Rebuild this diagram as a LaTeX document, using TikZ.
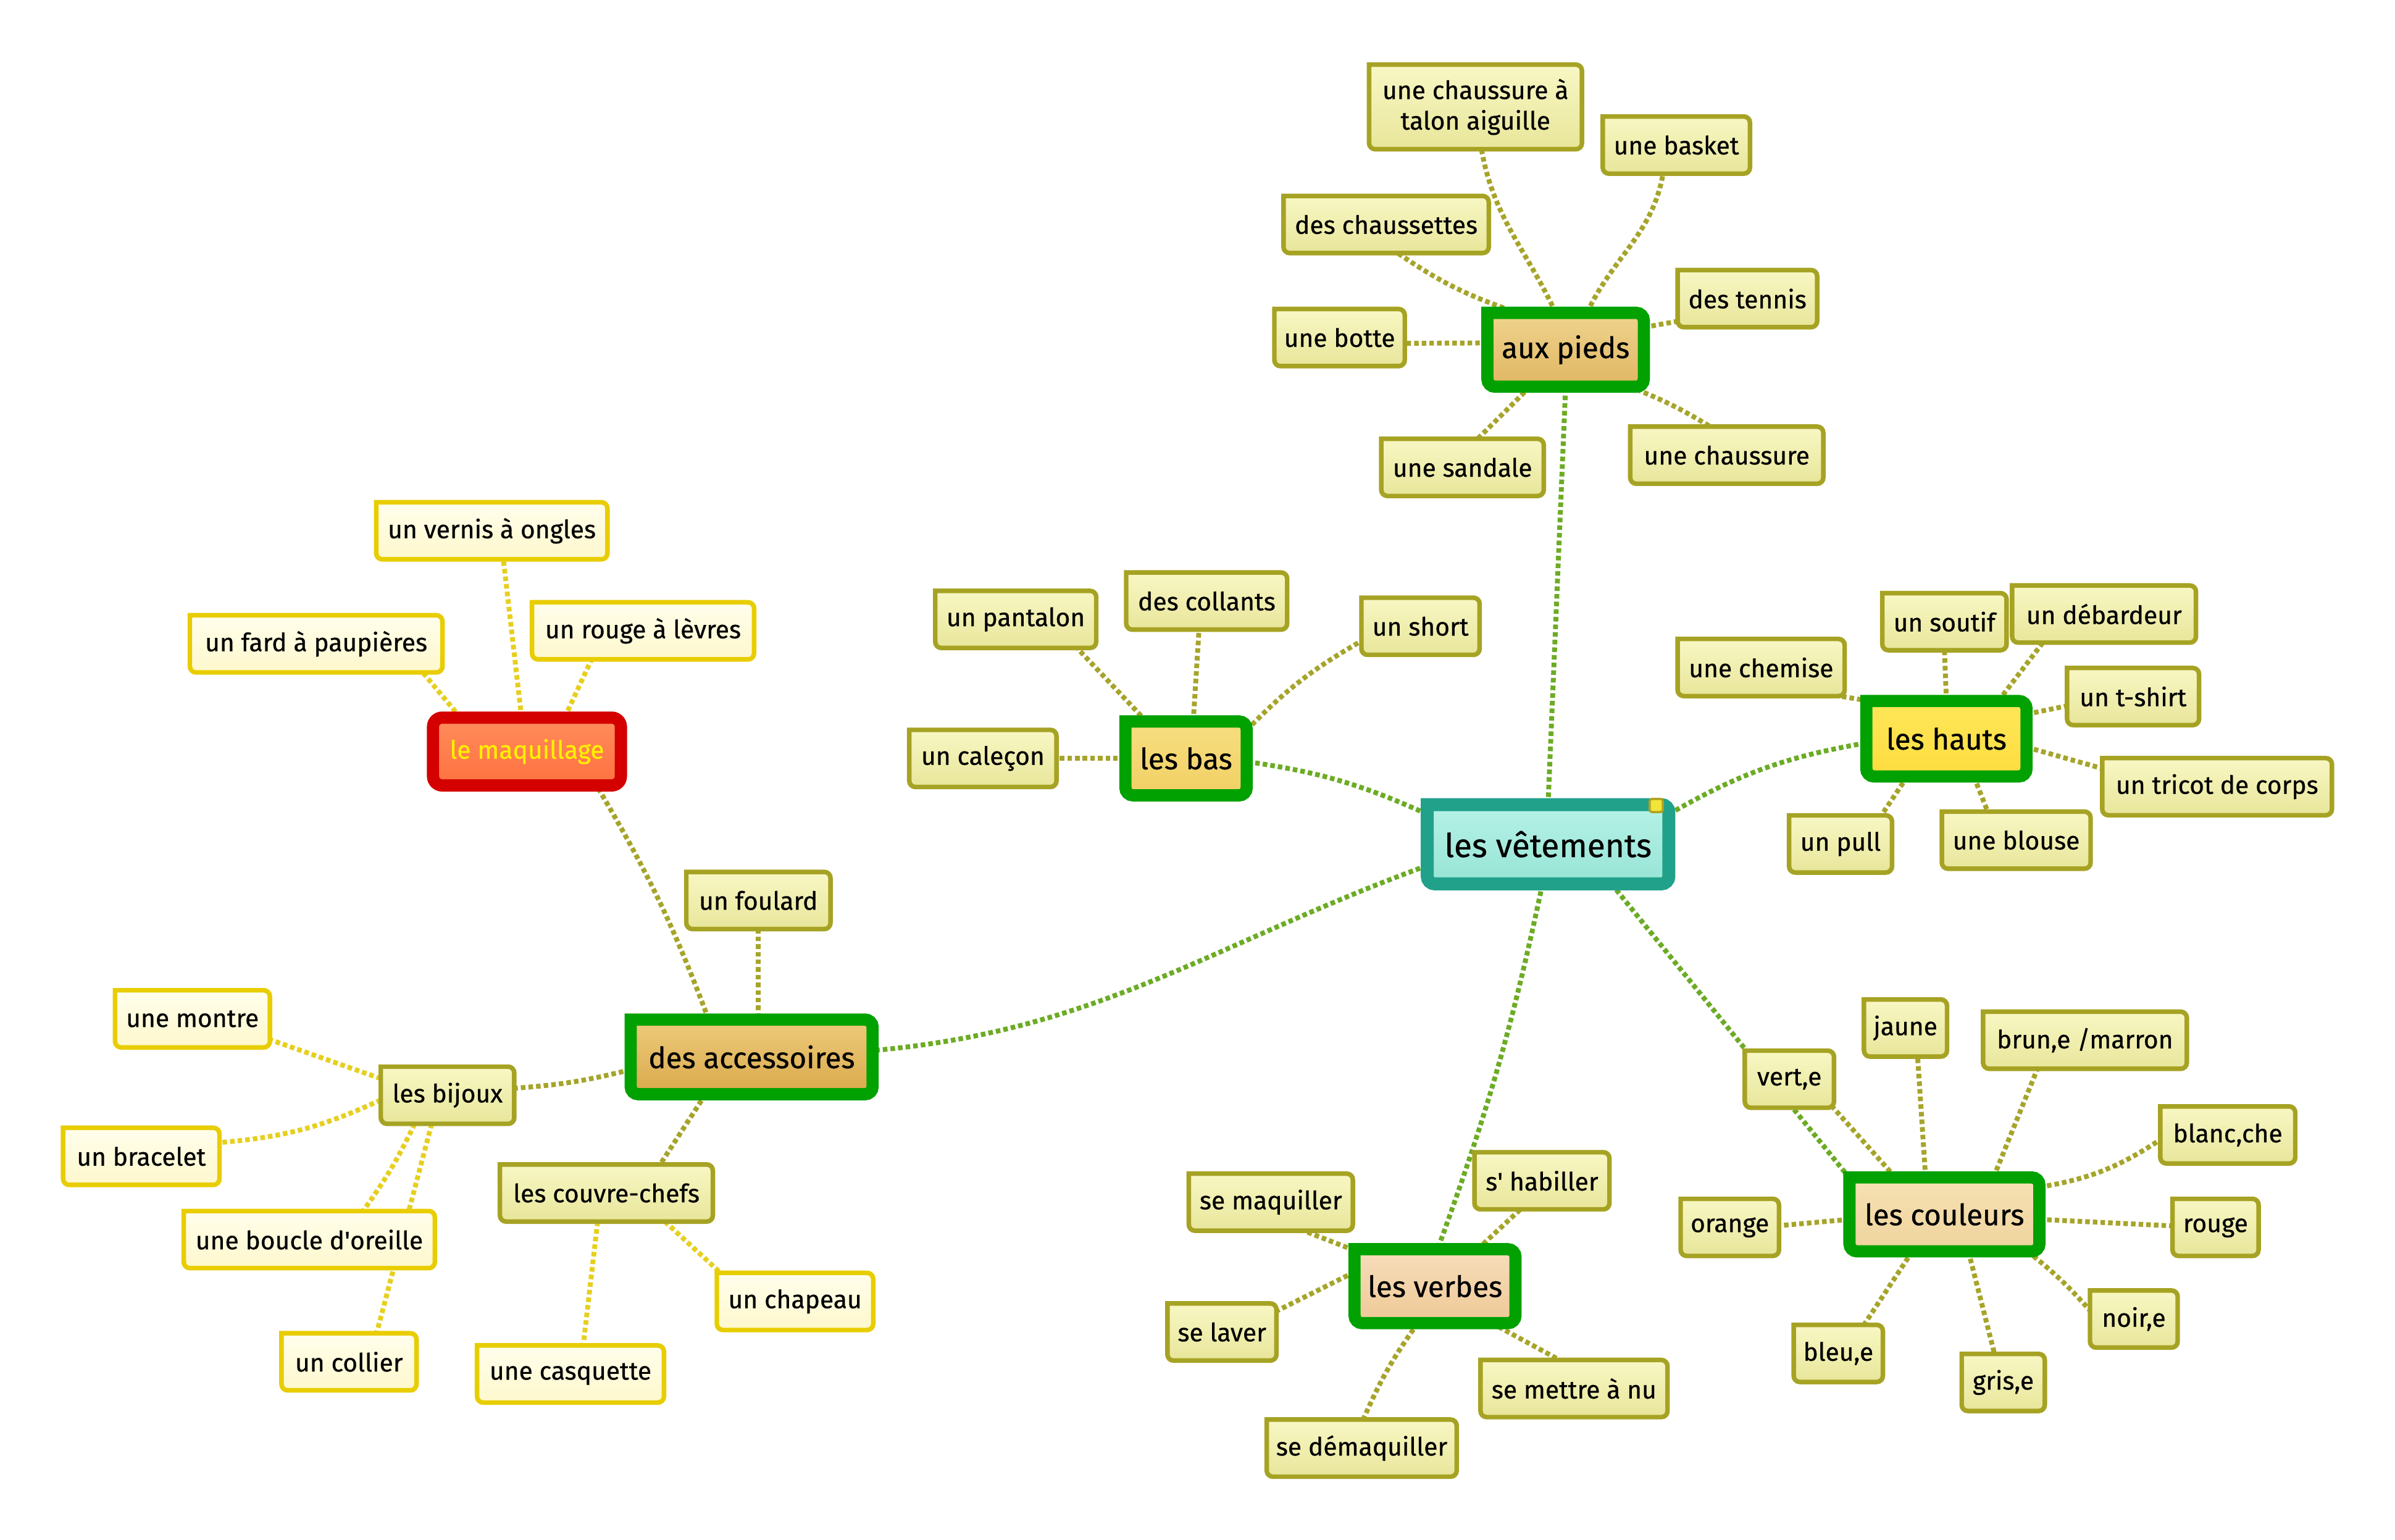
\documentclass[tikz,border=0pt]{standalone}
\usepackage{fontspec}
\setmainfont{Fira Sans}[FakeBold=0.6]
\newcommand\sq{\XeTeXglyph\XeTeXglyphindex "quotesingle"\relax}
\pgfdeclarelayer{bg}
\pgfdeclarelayer{boxes}
\pgfsetlayers{bg,boxes,main}
\definecolor{cgrn}{HTML}{6CAB24}
\definecolor{colive}{HTML}{A6A42A}
\definecolor{cyel}{HTML}{E6CF1E}
\definecolor{bolive}{HTML}{A6A324}
\definecolor{byel}{HTML}{E8CD00}
\definecolor{bgreen}{HTML}{02A102}
\definecolor{bteal}{HTML}{21A18A}
\definecolor{bred}{HTML}{D40000}
\definecolor{lftop}{HTML}{F8F7C4}
\definecolor{lfbot}{HTML}{E8E69A}
\definecolor{yltop}{HTML}{FFFEEC}
\definecolor{ylbot}{HTML}{FEF8CC}
\definecolor{vett}{HTML}{B6F2E7}
\definecolor{vetb}{HTML}{96E4D5}
\definecolor{auxt}{HTML}{EFD48E}
\definecolor{auxb}{HTML}{E0B662}
\definecolor{bast}{HTML}{F7DE80}
\definecolor{basb}{HTML}{F1D064}
\definecolor{haut}{HTML}{FFE75A}
\definecolor{haub}{HTML}{FDDC3E}
\definecolor{acct}{HTML}{EECB7B}
\definecolor{accb}{HTML}{D9A94C}
\definecolor{vert}{HTML}{F6DDBB}
\definecolor{verb}{HTML}{EFC996}
\definecolor{coult}{HTML}{F7E1B4}
\definecolor{coulb}{HTML}{EED39C}
\definecolor{maqt}{HTML}{FF8C5C}
\definecolor{maqb}{HTML}{FF713F}
\definecolor{maqtxt}{HTML}{FFF000}
\definecolor{mkfill}{HTML}{F2E53A}
\definecolor{mkdraw}{HTML}{B0A020}
\newcommand\sqframe[3]{\path[#2] (#1.north west) -- ([xshift=-#3]#1.north east) arc[start angle=90,end angle=0,radius=#3] -- ([yshift=#3]#1.south east) arc[start angle=0,end angle=-90,radius=#3] -- ([xshift=#3]#1.south west) arc[start angle=270,end angle=180,radius=#3] -- cycle;}
\tikzset{
  lf/.style={inner sep=0pt, font=\fontsize{16.5}{20}\selectfont, align=center, minimum height=37pt},
  mn/.style={inner sep=0pt, font=\fontsize{19.2}{23}\selectfont, minimum height=48pt},
  fleaf/.style={draw=bolive, line width=3pt, top color=lftop, bottom color=lfbot},
  fyel/.style={draw=byel, line width=3pt, top color=yltop, bottom color=ylbot},
  fmain/.style 2 args={draw=bgreen, line width=8pt, top color=#1, bottom color=#2},
  cbase/.style={line width=3.2pt, dash pattern=on 3pt off 2pt},
  cg/.style={cbase, draw=cgrn},
  co/.style={cbase, draw=colive},
  cy/.style={cbase, draw=cyel},
}
\begin{document}
\begin{tikzpicture}[x=1pt,y=1pt]
\useasboundingbox (0,0) rectangle (1568,1008);
% ---------- nodes (text) ----------
\node[inner sep=0pt, font=\fontsize{21.5}{25}\selectfont, minimum width=157.8pt, minimum height=51.5pt] (vet) at (1013.5,455.3) {les vêtements};
\node[mn, minimum width=102pt] (aux) at (1025,779) {aux pieds};
\node[mn, minimum width=79pt] (bas) at (776.5,511.5) {les bas};
\node[mn, minimum width=104.5pt, minimum height=49pt] (hauts) at (1274.3,524.4) {les hauts};
\node[mn, minimum width=158pt, minimum height=48.5pt] (acc) at (492.1,316.1) {des accessoires};
\node[mn, minimum width=105pt] (verbes) at (939.5,166) {les verbes};
\node[mn, minimum width=124pt] (couleurs) at (1273,213) {les couleurs};
\node[lf, minimum width=122.6pt, minimum height=44pt, text=maqtxt] (maq) at (345,516) {le maquillage};
% aux pieds
\node[lf, minimum width=139pt, minimum height=55pt] (chauss2) at (966,938) {une chaussure à\\talon aiguille};
\node[lf, minimum width=96pt] (basket) at (1097.5,913) {une basket};
\node[lf, minimum width=134pt] (chaussettes) at (907.5,861) {des chaussettes};
\node[lf, minimum width=91pt] (tennis) at (1144,812.5) {des tennis};
\node[lf, minimum width=85pt] (botte) at (877,787) {une botte};
\node[lf, minimum width=106pt] (sandale) at (957.5,702) {une sandale};
\node[lf, minimum width=126pt] (chaussure) at (1130.5,710) {une chaussure};
% les bas
\node[lf, minimum width=105pt] (pantalon) at (665,602.5) {un pantalon};
\node[lf, minimum width=105pt] (collants) at (790,614.5) {des collants};
\node[lf, minimum width=77pt] (short) at (930,598) {un short};
\node[lf, minimum width=96pt] (calecon) at (643.5,511.5) {un caleçon};
% les hauts
\node[lf, minimum width=109pt] (chemise) at (1153,571) {une chemise};
\node[lf, minimum width=81pt] (soutif) at (1273,601) {un soutif};
\node[lf, minimum width=120pt] (debardeur) at (1377.5,606) {un débardeur};
\node[lf, minimum width=86pt] (tshirt) at (1396.5,552) {un t-shirt};
\node[lf, minimum width=150pt] (tricot) at (1451.5,493) {un tricot de corps};
\node[lf, minimum width=67pt] (pull) at (1205,455.5) {un pull};
\node[lf, minimum width=97pt] (blouse) at (1320,458) {une blouse};
% les couleurs
\node[lf, minimum width=58pt] (verte) at (1171.5,301.5) {vert,e};
\node[lf, minimum width=54pt] (jaune) at (1247.5,335) {jaune};
\node[lf, minimum width=133pt] (brun) at (1365,327) {brun,e /marron};
\node[lf, minimum width=88pt] (blanc) at (1458.5,265) {blanc,che};
\node[lf, minimum width=64pt] (orange) at (1132.5,204.5) {orange};
\node[lf, minimum width=56pt] (rouge) at (1450.5,204.5) {rouge};
\node[lf, minimum width=57pt] (noir) at (1397,144.5) {noir,e};
\node[lf, minimum width=58pt] (bleu) at (1203.5,122) {bleu,e};
\node[lf, minimum width=54pt] (gris) at (1311.5,103) {gris,e};
% les verbes
\node[lf, minimum width=107pt] (semaq) at (832,221) {se maquiller};
\node[lf, minimum width=88pt] (habiller) at (1009.5,235) {s\sq{} habiller};
\node[lf, minimum width=71pt] (laver) at (800,136) {se laver};
\node[lf, minimum width=122pt] (mettre) at (1030.5,99) {se mettre à nu};
\node[lf, minimum width=124pt] (demaq) at (891.5,60) {se démaquiller};
% des accessoires
\node[lf, minimum width=94pt] (foulard) at (496.5,418.5) {un foulard};
\node[lf, minimum width=87pt] (bijoux) at (293,291) {les bijoux};
\node[lf, minimum width=139pt] (couvre) at (397,227) {les couvre-chefs};
\node[lf, minimum width=101pt] (montre) at (126,341) {une montre};
\node[lf, minimum width=102pt] (bracelet) at (92.5,251) {un bracelet};
\node[lf, minimum width=164pt] (boucle) at (202.5,196.5) {une boucle d\sq{}oreille};
\node[lf, minimum width=88pt] (collier) at (228.5,116.5) {un collier};
\node[lf, minimum width=102pt] (chapeau) at (520.5,156) {un chapeau};
\node[lf, minimum width=122pt] (casquette) at (373.5,108.5) {une casquette};
% le maquillage
\node[lf, minimum width=151pt] (vernis) at (322,660.5) {un vernis à ongles};
\node[lf, minimum width=165pt] (fard) at (207,586.5) {un fard à paupières};
\node[lf, minimum width=145pt] (rougel) at (421,595) {un rouge à lèvres};
% ---------- frames ----------
\begin{pgfonlayer}{boxes}
\sqframe{vet}{draw=bteal, line width=8.5pt, top color=vett, bottom color=vetb}{5pt}
\sqframe{aux}{fmain={auxt}{auxb}}{5pt}
\sqframe{bas}{fmain={bast}{basb}}{5pt}
\sqframe{hauts}{fmain={haut}{haub}}{5pt}
\sqframe{acc}{fmain={acct}{accb}}{5pt}
\sqframe{verbes}{fmain={vert}{verb}}{5pt}
\sqframe{couleurs}{fmain={coult}{coulb}}{5pt}
\path[draw=bred, line width=8pt, rounded corners=6pt, top color=maqt, bottom color=maqb] (maq.north west) rectangle (maq.south east);
\foreach \n in {chauss2,basket,chaussettes,tennis,botte,sandale,chaussure,pantalon,collants,short,calecon,chemise,soutif,debardeur,tshirt,tricot,pull,blouse,verte,jaune,brun,blanc,orange,rouge,noir,bleu,gris,semaq,habiller,laver,mettre,demaq,foulard,bijoux,couvre}{\sqframe{\n}{fleaf}{4pt}}
\foreach \n in {montre,bracelet,boucle,collier,chapeau,casquette,vernis,fard,rougel}{\sqframe{\n}{fyel}{4pt}}
\end{pgfonlayer}
\node[draw=mkdraw, fill=mkfill, line width=1.4pt, rounded corners=1.5pt, minimum size=8.6pt, inner sep=0pt] (mk) at (1084.3,480.7) {};
% ---------- connectors ----------
\begin{pgfonlayer}{bg}
\draw[cg] (vet.north) -- (aux.south);
\draw[cg] (vet.166) to[bend right=8] (bas.-3);
\draw[cg] (vet.14) to[bend left=10] (hauts.183);
\draw[cg] (vet.190) to[out=200,in=5] (acc.3);
\draw[cg] (vet.-98) to[bend left=4] (verbes.86);
\draw[cg] (vet.-32) -- (couleurs.159);
% aux pieds
\draw[co] (aux.105) to[out=115,in=-80] (chauss2.-82);
\draw[co] (aux.60) to[out=65,in=-100] (basket.-115);
\draw[co] (aux.142) to[bend left=8] (chaussettes.-68);
\draw[co] (aux.175) -- (botte.-5);
\draw[co] (aux.16) -- (tennis.198);
\draw[co] (aux.-134) -- (sandale.62);
\draw[co] (aux.-30) to[bend left=5] (chaussure.120);
% les bas
\draw[co] (bas.137) -- (pantalon.-25);
\draw[co] (bas.79) -- (collants.-105);
\draw[co] (bas.25) to[bend left=8] (short.194);
\draw[co] (bas.west) -- (calecon.east);
% les hauts
\draw[co] (hauts.154) -- (chemise.-20);
\draw[co] (hauts.north) -- (soutif.south);
\draw[co] (hauts.36) -- (debardeur.205);
\draw[co] (hauts.17) -- (tshirt.188);
\draw[co] (hauts.-6) -- (tricot.171);
\draw[co] (hauts.-136) -- (pull.35);
\draw[co] (hauts.-54) -- (blouse.135);
% les couleurs
\draw[co] (couleurs.143) -- (verte.-33);
\draw[co] (couleurs.117) -- (jaune.-67);
\draw[co] (couleurs.37) -- (brun.211);
\draw[co] (couleurs.16) to[bend right=12] (blanc.184);
\draw[co] (couleurs.183) -- (orange.2);
\draw[co] (couleurs.-3) -- (rouge.178);
\draw[co] (couleurs.-24.5) to[bend left=5] (noir.169);
\draw[co] (couleurs.-131) -- (bleu.48);
\draw[co] (couleurs.-57) -- (gris.107);
% les verbes
\draw[co] (verbes.156) -- (semaq.-41);
\draw[co] (verbes.41) -- (habiller.-127);
\draw[co] (verbes.170) -- (laver.21);
\draw[co] (verbes.-33) -- (mettre.117);
\draw[co] (verbes.-115) to[bend right=6] (demaq.87);
% des accessoires
\draw[co] (foulard.south) -- (foulard.south |- acc.north);
\draw[co] (acc.186) to[bend left=5] (bijoux.6);
\draw[co] (acc.-141) -- (couvre.28);
\draw[co] (acc.139) to[bend right=5] (maq.-26.5);
\draw[cy] (bijoux.166) -- (montre.-15);
\draw[cy] (bijoux.184) to[bend left=10] (bracelet.10);
\draw[cy] (bijoux.-139) to[bend left=5] (boucle.28);
\draw[cy] (bijoux.-119) -- (collier.46);
\draw[cy] (couvre.-26.6) -- (chapeau.159);
\draw[cy] (couvre.-107) -- (casquette.66);
% le maquillage
\draw[cy] (maq.99) -- (vernis.-68);
\draw[cy] (maq.153) -- (fard.-15);
\draw[cy] (maq.42) -- (rougel.209);
\end{pgfonlayer}
\end{tikzpicture}
\end{document}
